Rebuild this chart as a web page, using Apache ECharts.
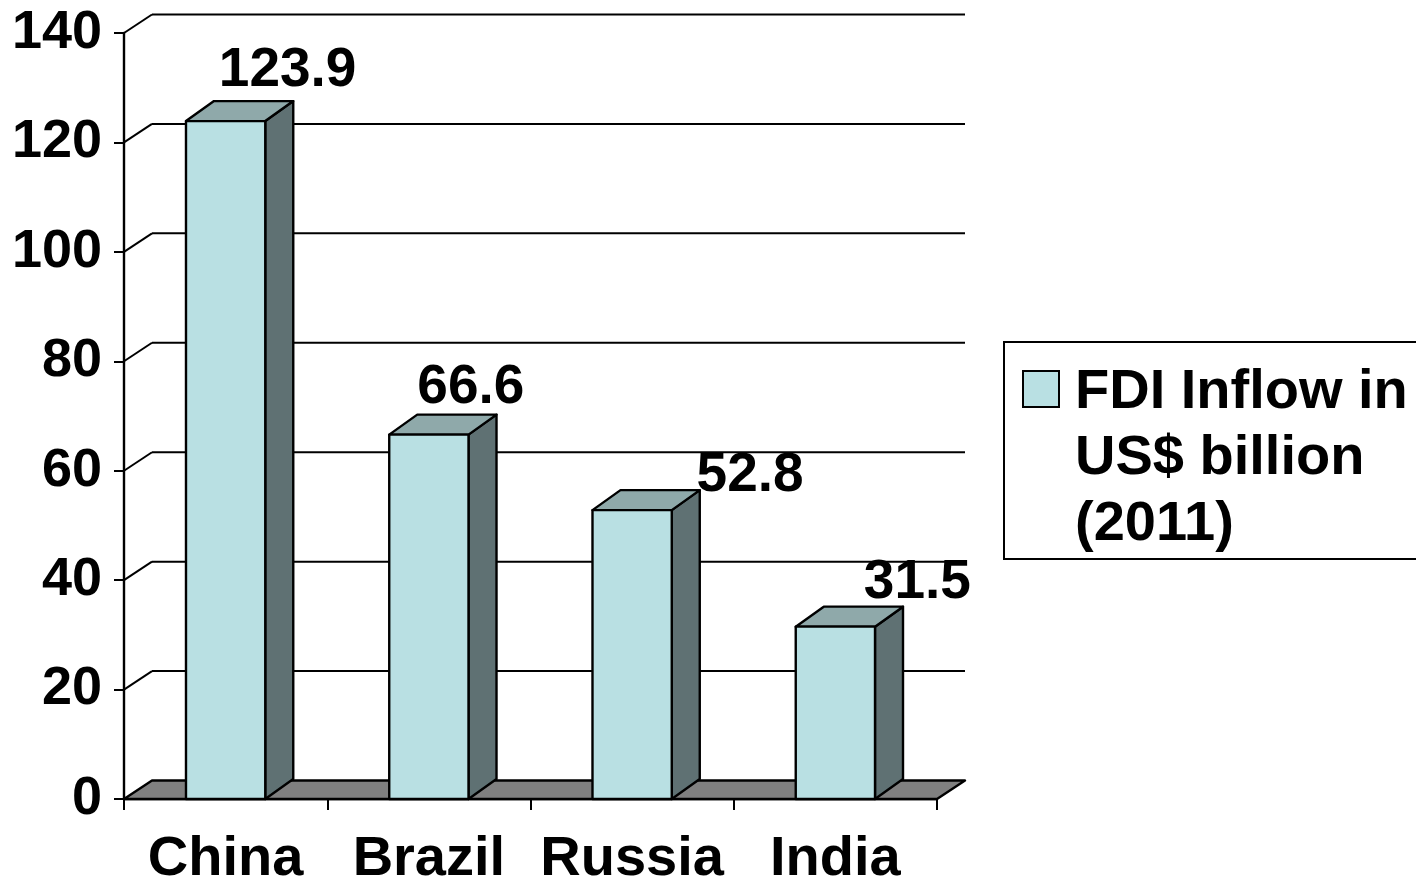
<!DOCTYPE html>
<html>
<head>
<meta charset="utf-8">
<style>
html,body{margin:0;padding:0;background:#fff;overflow:hidden;}
#chart{width:1416px;height:885px;}
</style>
<script src="https://cdn.jsdelivr.net/npm/echarts@6/dist/echarts.min.js"></script>
</head>
<body>
<div id="chart"></div>
<script>
// ---- data ----
const categories = ['China', 'Brazil', 'Russia', 'India'];
const fdiValues = [123.9, 66.6, 52.8, 31.5];
const seriesName = 'FDI Inflow in\nUS$ billion\n(2011)';
const yTicks = [0, 20, 40, 60, 80, 100, 120, 140];

// ---- styles ----
const FONT = '"Liberation Sans", Arial, sans-serif';
const FRONT = '#B9E0E3', TOP = '#8FA9AA', SIDE = '#5F7173', FLOOR = '#808080';
const DX = 28, WALL_DY = -18.5, BAR_DY = -20;
const BAR_RATIO = 0.39;
const LW = 2.4;
// label offset from bar front-top centre (px)
const labelOffsets = [[62, -50], [42, -47], [118, -34], [82, -44]];

const chart = echarts.init(document.getElementById('chart'));

function renderWall(params, api) {
  const v = api.value(0);
  const cs = params.coordSys;
  const p = api.coord([0, v]);
  const y = p[1];
  const xl = cs.x, xr = cs.x + cs.width;
  const st = { stroke: '#000', lineWidth: 2 };
  const children = [];
  if (v !== 0) {
    children.push({ type: 'line', shape: { x1: xl, y1: y, x2: xl + DX, y2: y + WALL_DY }, style: st });
    children.push({ type: 'line', shape: { x1: xl + DX, y1: y + WALL_DY, x2: xr + DX, y2: y + WALL_DY }, style: st });
  } else {
    children.push({
      type: 'polygon',
      shape: { points: [[xl, y], [xr, y], [xr + DX, y + WALL_DY], [xl + DX, y + WALL_DY]] },
      style: { fill: FLOOR, stroke: '#000', lineWidth: LW, lineJoin: 'round' }
    });
  }
  return { type: 'group', children };
}

function renderBar(params, api) {
  const idx = api.value(0), val = api.value(1);
  const top = api.coord([idx, val]);
  const base = api.coord([idx, 0]);
  const w = api.size([1, 0])[0] * BAR_RATIO;
  const x0 = top[0] - w / 2, x1 = top[0] + w / 2;
  const yT = top[1], yB = base[1];
  const st = { stroke: '#000', lineWidth: LW, lineJoin: 'round' };
  const off = labelOffsets[params.dataIndex];
  return {
    type: 'group',
    children: [
      { type: 'polygon', shape: { points: [[x1, yB], [x1 + DX, yB + BAR_DY], [x1 + DX, yT + BAR_DY], [x1, yT]] }, style: Object.assign({ fill: SIDE }, st) },
      { type: 'polygon', shape: { points: [[x0, yT], [x0 + DX, yT + BAR_DY], [x1 + DX, yT + BAR_DY], [x1, yT]] }, style: Object.assign({ fill: TOP }, st) },
      { type: 'rect', shape: { x: x0, y: yT, width: w, height: yB - yT }, style: Object.assign({ fill: FRONT }, st) },
      {
        type: 'text', x: top[0] + off[0], y: yT + off[1],
        style: {
          text: val.toFixed(1), fill: '#000', fontSize: 55, fontWeight: 'bold', fontFamily: FONT,
          align: 'center', verticalAlign: 'middle'
        }
      }
    ]
  };
}

const option = {
  backgroundColor: '#fff',
  animation: false,
  grid: { left: 124, right: 479, top: 33, bottom: 86, outerBoundsMode: 'none', containLabel: false },
  xAxis: {
    type: 'category',
    data: categories,
    boundaryGap: true,
    axisLine: { show: true, lineStyle: { color: '#000', width: LW } },
    axisTick: { show: true, interval: 0, length: 11, lineStyle: { color: '#000', width: 2 } },
    axisLabel: { interval: 0, color: '#000', fontSize: 56, fontWeight: 'bold', fontFamily: FONT, margin: 33 },
    splitLine: { show: false }
  },
  yAxis: {
    type: 'value',
    min: 0, max: 140, interval: 20,
    axisLine: { show: true, lineStyle: { color: '#000', width: LW } },
    axisTick: { show: true, length: 10, lineStyle: { color: '#000', width: 2 } },
    axisLabel: { color: '#000', fontSize: 54, fontWeight: 'bold', fontFamily: FONT, margin: 22 },
    splitLine: { show: false }
  },
  legend: {
    show: true,
    data: [seriesName],
    left: 1004, top: 342,
    orient: 'vertical',
    padding: [17, 80, 0, 18],
    borderColor: '#000', borderWidth: 2,
    itemWidth: 47, itemHeight: 198,
    itemGap: 0,
    icon: 'path://M0,0L0,0M47,198L47,198M0,11h36v36h-36z',
    itemStyle: { color: FRONT, borderColor: '#000', borderWidth: 2 },
    textStyle: { color: '#000', fontSize: 56, fontWeight: 'bold', fontFamily: FONT, lineHeight: 66 },
    selectedMode: false
  },
  series: [
    {
      name: 'wall',
      type: 'custom',
      renderItem: renderWall,
      data: yTicks.map(v => [v]),
      encode: { y: 0 },
      z: 1,
      silent: true
    },
    {
      name: seriesName,
      type: 'custom',
      renderItem: renderBar,
      color: FRONT,
      data: categories.map((c, i) => [i, fdiValues[i]]),
      encode: { x: 0, y: 1 },
      z: 3
    }
  ]
};
chart.setOption(option);
</script>
</body>
</html>
